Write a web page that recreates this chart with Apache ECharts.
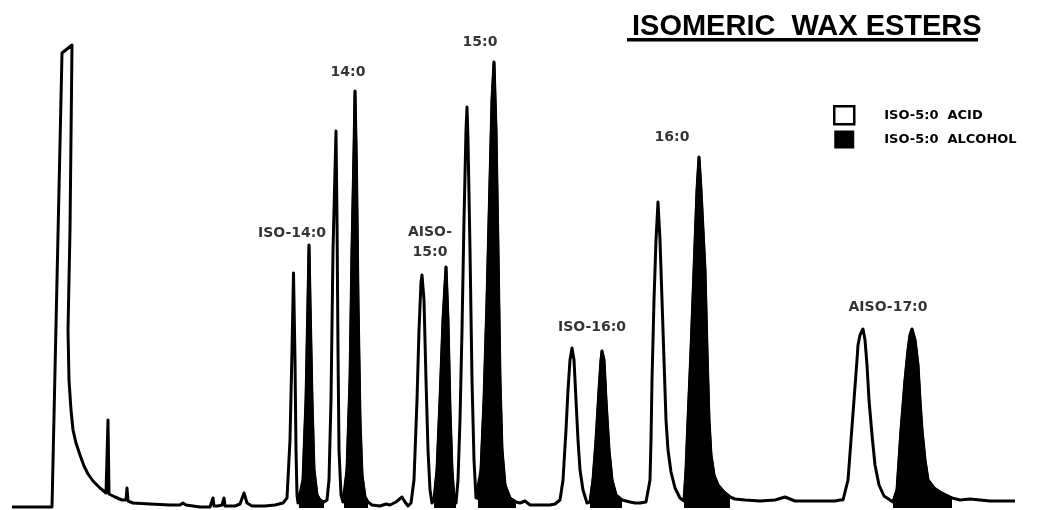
<!DOCTYPE html>
<html><head><meta charset="utf-8">
<script src="https://cdn.jsdelivr.net/npm/echarts@6/dist/echarts.min.js"></script>
<style>html,body{margin:0;padding:0;background:#fff}#c{width:1058px;height:510px}</style>
</head><body><div id="c"></div><script>
// Chromatogram trace: retention position and detector response
const traceTime = [12,52,62,72,70,68,69,71,73,76,80,84,88,93,100,106,107,108,109,115,122,126,127,128,133,150,170,180,183,186,200,210,212,213,214,218,222,224,225,235,240,244,247,252,265,275,283,287,
290,292,293.5,295,296,297,298,
299,303,306,308,309,310,312,314,317,320,324,
327,329,331,333,336,337,338,339,341,343,
344,347,350,352,354,355,356.5,358,360,362,365,368,
372,380,386,390,396,402,405,408,
411,414,417,419,421,422,424,426,428,430,432,
434,437,440,443,446,448,450,452,454,456,
458,460,462,464,466,467,468,470,472,474,476,
478,481,484,487,490,492,494,496,498,500,502,505,510,516,
520,525,530,540,550,555,560,
563,566,568,570,572,574,576,578,580,583,587,
590,593,596,599,601,602,604,606,609,612,616,622,630,635,
640,646,
648,650,651,652,654,656,658,660,662,664,666,668,671,675,680,684,
686,688,691,694,697,699,701,703,705,707,709,711,714,718,724,730,
735,745,760,775,785,795,810,825,835,840,
843,848,851,854,857,858,860,863,865,867,869,872,875,879,884,890,
893,897,901,905,908,910,912,915,918,920,922,925,928,934,940,946,952,
960,970,980,990,1000,1015];
const traceSignal = [1,1,455,463,278,178,128,98,78,65,53,42,34,27,20,15,15,88,14,11,8,8,20,7,5,4,3,3,5,3,1,1,3,10,2,2,3,10,2,2,4,15,5,2,2,3,5,10,
68,158,235,148,58,13,5,
5,28,108,208,263,208,108,38,13,8,6,
8,28,108,258,377,288,158,58,13,6,
8,38,128,258,358,417,338,208,88,33,11,6,
3,2,4,3,6,11,6,2,
5,28,108,178,226,233,208,128,58,18,5,
8,38,108,188,241,188,98,38,10,5,
28,88,178,288,378,401,368,258,128,48,10,
8,38,108,208,328,408,446,378,258,128,58,23,10,6,
5,7,3,3,3,4,8,
28,78,118,148,160,148,108,68,38,18,5,
6,28,68,118,148,157,148,108,58,28,13,8,6,5,
5,6,
8,28,68,128,208,268,306,268,208,148,88,58,36,20,10,7,
38,88,158,238,318,351,318,278,238,158,88,53,33,23,16,11,
9,8,7,8,11,7,7,7,7,8,
8,28,68,108,148,163,173,179,168,143,108,73,43,23,12,8,
6,18,78,128,158,173,179,168,143,108,78,48,28,20,16,13,10,
8,9,8,7,7,7];
// Retention windows of the filled (iso-5:0 alcohol) peaks
const alcoholWindows = [[298.5,324.5],[343.5,368.5],[433.5,456.5],[477.5,516.5],[589.5,622.5],[683.5,730.5],[892.5,952.5]];
// Peak annotations
const peakLabelText = ['ISO-14:0','14:0','AISO-\n15:0','15:0','ISO-16:0','16:0','AISO-17:0'];
const peakLabelTime = [292,348,430,480,592,672,888];
const peakLabelSignal = [275,436,266,466,181,371,201];
const legendNames = ['ISO-5:0  ACID','ISO-5:0  ALCOHOL'];
const titleText = 'ISOMERIC  WAX ESTERS';

const trace = traceTime.map((t,i)=>[t, traceSignal[i]]);
const alcohol = [];
alcoholWindows.forEach((w,k)=>{
  if (k>0) alcohol.push(null);
  trace.forEach(p=>{ if (p[0]>=w[0] && p[0]<=w[1]) alcohol.push(p); });
});
const labels = peakLabelText.map((s,i)=>[peakLabelTime[i], peakLabelSignal[i], s]);

const chart = echarts.init(document.getElementById('c'));
chart.setOption({
  animation:false,
  backgroundColor:'#fff',
  title:{text:titleText,left:627,top:7,
    textStyle:{fontFamily:'Liberation Sans',fontWeight:'bold',fontSize:29,color:'#000'}},
  graphic:[{type:'rect',left:627,top:38,shape:{width:351,height:3.5},style:{fill:'#000'}}],
  legend:{orient:'vertical',left:828,top:100,itemWidth:20,itemHeight:18,itemGap:5,
    textStyle:{fontFamily:'DejaVu Sans',fontWeight:'bold',fontSize:13,color:'#000',padding:[0,0,0,25]},
    data:[
      {name:legendNames[0],icon:'rect',itemStyle:{color:'#fff',borderColor:'#000',borderWidth:2.5}},
      {name:legendNames[1],icon:'rect',itemStyle:{color:'#000',borderColor:'#000',borderWidth:0}}
    ]},
  grid:{left:0,right:0,top:0,bottom:2,containLabel:false},
  xAxis:{type:'value',min:0,max:1058,show:false},
  yAxis:{type:'value',min:0,max:508,show:false},
  series:[
    {name:legendNames[0],type:'line',data:trace,symbol:'none',
      itemStyle:{color:'#fff',borderColor:'#000'},
      lineStyle:{color:'#000',width:3,join:'round'}},
    {name:legendNames[1],type:'line',data:alcohol,symbol:'none',connectNulls:false,
      itemStyle:{color:'#000'},
      lineStyle:{color:'#000',width:2.5},
      areaStyle:{color:'#000',opacity:1,origin:'start'}},
    {type:'scatter',data:labels,symbolSize:0,silent:true,itemStyle:{color:'#000'},
      label:{show:true,position:'inside',formatter:p=>p.value[2],
        fontFamily:'DejaVu Sans',fontWeight:'bold',fontSize:14,color:'#000',
        textBorderWidth:0,lineHeight:20,align:'center'}}
  ]
});
</script></body></html>
